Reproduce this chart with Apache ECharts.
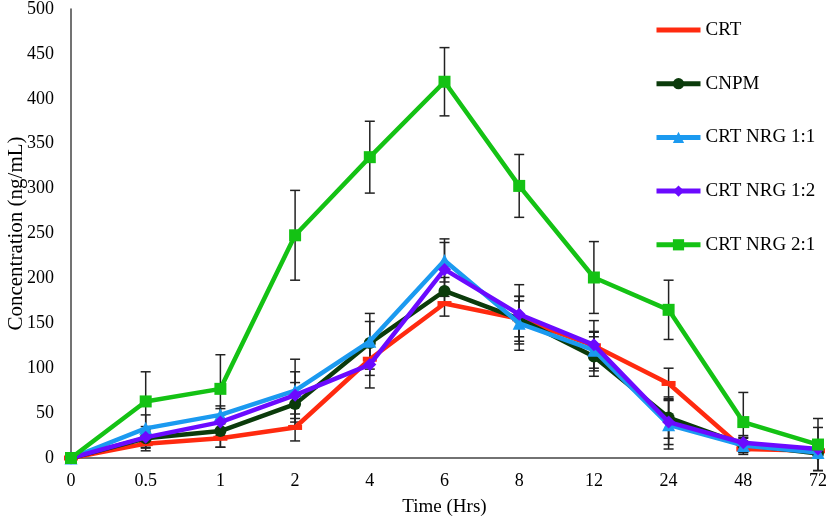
<!DOCTYPE html>
<html><head><meta charset="utf-8">
<script src="https://cdn.jsdelivr.net/npm/echarts@6/dist/echarts.min.js"></script>
<style>html,body{margin:0;padding:0;background:#fff}#c{width:827px;height:523px}</style>
</head><body><div id="c"></div>
<script>
const categories = ['0','0.5','1','2','4','6','8','12','24','48','72'];
const seriesNames = ['CRT','CNPM','CRT NRG 1:1','CRT NRG 1:2','CRT NRG 2:1'];
const crt      = [0, 16, 22, 34, 110, 172, 155, 125, 83, 10, 8];
const cnpm     = [0, 22, 30, 60, 128, 186, 155, 113, 45, 15, 5];
const nrg11    = [0, 33, 48, 75, 130, 220, 150, 120, 37, 14, 6];
const nrg12    = [0, 23, 40, 70, 104, 210, 160, 126, 40, 17, 10];
const nrg21    = [0, 63, 77, 248, 335, 419, 303, 201, 165, 40, 15];
const crtErr   = [0, 8, 10, 15, 18, 14, 20, 28, 17, 6, 4];
const cnpmErr  = [0, 10, 18, 24, 24, 15, 25, 22, 23, 8, 4];
const nrg11Err = [0, 15, 10, 35, 31, 24, 30, 20, 27, 8, 5];
const nrg12Err = [0, 12, 15, 26, 26, 30, 33, 15, 25, 8, 24];
const nrg21Err = [0, 33, 38, 50, 40, 38, 35, 40, 33, 33, 29];

const colors = ['#FF2A0F','#0B3B0B','#1B9AF0','#6B0AFF','#14C214'];
const values = [crt, cnpm, nrg11, nrg12, nrg21];
const errs = [crtErr, cnpmErr, nrg11Err, nrg12Err, nrg21Err];
const symbols = ['rect','circle','triangle','diamond','rect'];
const symbolSizes = [[14,5],12,13,13,12];
const font = 'Liberation Serif';

const series = [];
values.forEach((v, i) => {
  series.push({
    type: 'custom',
    name: seriesNames[i] + ' err',
    z: 1,
    silent: true,
    data: v.map((y, k) => [k, y - errs[i][k], y + errs[i][k]]),
    renderItem: function (params, api) {
      const x = api.value(0);
      const lo = api.coord([x, api.value(1)]);
      const hi = api.coord([x, api.value(2)]);
      const w = 5;
      const st = { stroke: '#222', lineWidth: 1.5 };
      return { type: 'group', children: [
        { type: 'line', shape: { x1: lo[0], y1: lo[1], x2: hi[0], y2: hi[1] }, style: st },
        { type: 'line', shape: { x1: lo[0]-w, y1: lo[1], x2: lo[0]+w, y2: lo[1] }, style: st },
        { type: 'line', shape: { x1: hi[0]-w, y1: hi[1], x2: hi[0]+w, y2: hi[1] }, style: st }
      ]};
    }
  });
});
values.forEach((v, i) => {
  series.push({
    type: 'line',
    name: seriesNames[i],
    z: 3 + i,
    data: v,
    symbol: symbols[i],
    symbolSize: symbolSizes[i],
    showAllSymbol: true,
    color: colors[i],
    lineStyle: { width: 4.5, color: colors[i] },
    itemStyle: { color: colors[i] }
  });
});

const legendData = seriesNames.map((n, i) => i === 0 ? { name: n, itemStyle: { opacity: 0 } } : { name: n });

const chart = echarts.init(document.getElementById('c'), null, { renderer: 'canvas' });
chart.setOption({
  animation: false,
  backgroundColor: '#fff',
  textStyle: { fontFamily: font },
  grid: { left: 71, right: 9, top: 9, bottom: 65, containLabel: false, outerBoundsMode: 'none' },
  legend: {
    data: legendData,
    orient: 'vertical',
    left: 649,
    top: 15,
    itemWidth: 44,
    itemHeight: 14,
    itemGap: 33.7,
    lineStyle: { width: 5 },
    textStyle: { fontFamily: font, fontSize: 19, color: '#000', lineHeight: 20 }
  },
  xAxis: {
    type: 'category',
    data: categories,
    boundaryGap: false,
    name: 'Time (Hrs)',
    nameLocation: 'middle',
    nameGap: 40,
    nameMoveOverlap: false,
    nameTextStyle: { fontFamily: font, fontSize: 19, color: '#000' },
    axisLine: { lineStyle: { color: '#444', width: 1.5 } },
    axisTick: { show: false },
    axisLabel: { fontFamily: font, fontSize: 18, color: '#000', margin: 14 }
  },
  yAxis: {
    type: 'value',
    min: 0, max: 500, interval: 50,
    name: 'Concentration (ng/mL)',
    nameLocation: 'middle',
    nameGap: 44,
    nameMoveOverlap: false,
    nameTextStyle: { fontFamily: font, fontSize: 21, color: '#000' },
    axisLine: { show: true, lineStyle: { color: '#444', width: 1.5 } },
    axisTick: { show: false },
    splitLine: { show: false },
    axisLabel: { fontFamily: font, fontSize: 18, color: '#000', margin: 17 }
  },
  series: series
});
</script></body></html>
